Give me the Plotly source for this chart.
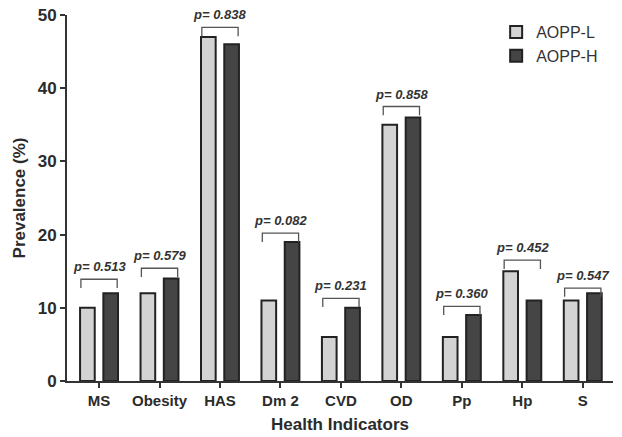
import plotly.graph_objects as go

categories = ["MS", "Obesity", "HAS", "Dm 2", "CVD", "OD", "Pp", "Hp", "S"]
aopp_l = [10, 12, 47, 11, 6, 35, 6, 15, 11]
aopp_h = [12, 14, 46, 19, 10, 36, 9, 11, 12]
p_values = ["0.513", "0.579", "0.838", "0.082", "0.231", "0.858", "0.360", "0.452", "0.547"]
bracket_levels = [13.9, 15.4, 48.3, 20.2, 11.3, 37.5, 10.2, 16.5, 12.7]

FONT = "Liberation Sans, Arial, Helvetica, sans-serif"
INK = "#2b2b2b"

fig = go.Figure()
fig.add_trace(go.Bar(x=categories, y=aopp_l, name="AOPP-L",
                     marker=dict(color="#d3d3d3", line=dict(color="#222222", width=2))))
fig.add_trace(go.Bar(x=categories, y=aopp_h, name="AOPP-H",
                     marker=dict(color="#454545", line=dict(color="#222222", width=2))))

shapes = []
annotations = []
half = 0.3
leg = 1.2
for i, (lvl, p) in enumerate(zip(bracket_levels, p_values)):
    path = f"M {i-half},{lvl-leg} L {i-half},{lvl} L {i+half},{lvl} L {i+half},{lvl-leg}"
    shapes.append(dict(type="path", xref="x", yref="y", path=path,
                       line=dict(color="#555555", width=1.3)))
    annotations.append(dict(x=i, y=lvl, xref="x", yref="y", text=f"<b><i>p= {p}</i></b>",
                            showarrow=False, yanchor="bottom", yshift=3,
                            font=dict(family=FONT, size=13, color="#333333")))

fig.update_layout(
    barmode="group",
    bargap=0.23,
    bargroupgap=0.37,
    width=622, height=437,
    margin=dict(l=67, r=9, t=15, b=56),
    paper_bgcolor="white", plot_bgcolor="white",
    font=dict(family=FONT, color=INK),
    shapes=shapes,
    annotations=annotations,
    legend=dict(x=0.786, y=1.0, xanchor="left", yanchor="top",
                font=dict(family=FONT, size=16, color="#333333"),
                bgcolor="rgba(0,0,0,0)", itemwidth=30, tracegroupgap=0),
    xaxis=dict(
        range=[-0.53, 8.5], automargin=False,
        showline=True, linecolor="#333333", linewidth=2,
        ticks="outside", ticklen=5, tickwidth=2, tickcolor="#333333",
        tickfont=dict(family=FONT, size=15, color=INK),
        title=dict(text="<b>Health Indicators</b>", font=dict(family=FONT, size=17, color=INK),
                   standoff=10),
        showgrid=False, zeroline=False,
    ),
    yaxis=dict(
        range=[0, 50], automargin=False, ticklabeloverflow="allow",
        tickvals=[0, 10, 20, 30, 40, 50],
        ticktext=["<b>0</b>", "<b>10</b>", "<b>20</b>", "<b>30</b>", "<b>40</b>", "<b>50</b>"],
        showline=True, linecolor="#333333", linewidth=2,
        ticks="outside", ticklen=5, tickwidth=2, tickcolor="#333333",
        tickfont=dict(family=FONT, size=17, color=INK),
        title=dict(text="<b>Prevalence (%)</b>", font=dict(family=FONT, size=17, color=INK),
                   standoff=8),
        showgrid=False, zeroline=False,
    ),
)
fig.update_xaxes(ticktext=[f"<b>{c}</b>" for c in categories], tickvals=categories)

# remove the default 8px page margin so the figure fills the window exactly
fig.write_html("out.html", config={"displayModeBar": False},
               post_script="document.body.style.margin='0';")
